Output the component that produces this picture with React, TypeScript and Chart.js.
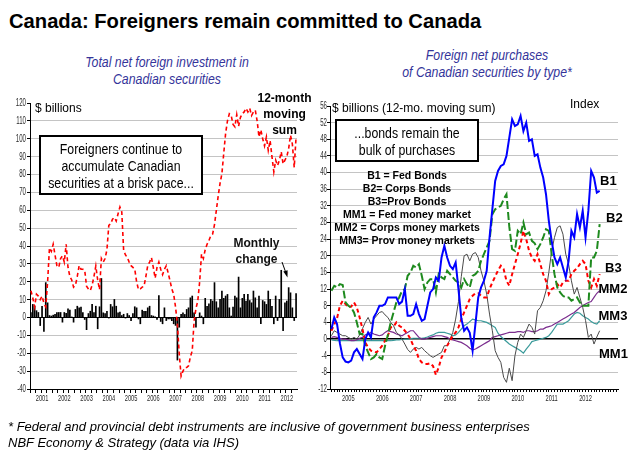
import React, { useEffect, useRef } from "react";
import { Chart, registerables } from "chart.js";

Chart.register(...registerables);

// ---------- Left panel data (monthly, Jan 2001 - Dec 2012) ----------
const leftYears = ["2001", "2002", "2003", "2004", "2005", "2006", "2007", "2008", "2009", "2010", "2011", "2012"];

const monthlyChange = [
  3, 7.5, 6.5, 4, 3, -4.7, 6.5, -8, 19.7, 8.4,
  1.3, 1, 1.5, 2, 3, 3, 3, -2.8, 3, 2.5,
  5, 4.3, 0.5, -2.8, 4.7, 6.5, 5.6, 6, 3, -1.3,
  -7, 2.4, 3.7, 7.5, 3, 6.5, -6.5, 6.2, 22, 2.8,
  2.4, 3.7, -0.5, 7.5, 6.2, 10.3, 6.5, 2.8, 3.2, 1.3,
  2, -0.5, 2.4, 1.3, -1.9, 2.4, 6.2, 5.6, -1, -3.7,
  4.3, 3.7, 3.7, 5.6, 6.5, 1.3, 1, 0.5, -1.3, 12.5,
  -2.4,
  -3.7, 5.6, -1.9, -1, -1, -2, -3.7, -4.6, -24, -5.6,
  1.9, 2.8, 1.9, 4.7, 5.6, 11.2, 12.2, 2.8, -5.6, 0,
  2.8, 1, -3.7, 10.9, 6.5, 7.9, 10.3, 9.4, 19.7, 9,
  5.6, 10.3, 15, 10.9, 12.2, 13.1, 5.6, 1, 6, 12.2,
  11.2, 22.8, 5.6, 10.9, 13.1, 9.4, 13.1, 9.7, 8.4, 15,
  11.2, 5.6, 12.2, -3.7, 9.7, 9, 7.5, 15, 10.3, 6.5,
  -3.7, 12.2, -1.9, 10.3, 26.6, -7.5, 8.4, 9.4, 16.9, 14,
  5.6, -1.9, 13.5,
];

const movingSum = [
  15, 11, 6, 13, 12, 10, 12, 8, 6, 20, 39, 37,
  41, 35, 29, 28, 33, 34.5, 31, 41, 28, 23, 21, 17,
  18, 23, 29, 27, 27, 26.5, 17.5, 16, 15, 18, 23, 28.8,
  21, 15.6, 33, 31, 33, 38, 51.5, 52.4, 55, 56, 54, 58,
  61.8, 59, 37.6, 35, 33.5, 31, 29, 28, 27, 20, 15.6, 16,
  17, 17.5, 23, 29, 31, 33.5, 28, 22, 28, 31, 27, 24,
  27, 29, 25, 20.6, 16, 13, 5.8, -3.8, -20.6, -32.8, -30, -28,
  -28, -27, -22, -18.6, -2, 5, 9.3, 20, 35.5, 33, 38, 41,
  43, 45.8, 46.7, 52, 60, 68, 75, 80.5, 92, 103, 110, 114,
  113, 108, 106.7, 113.5, 107, 112, 114, 115, 117, 115, 117, 113,
  115, 116, 110, 101, 105, 100, 96, 101, 93.5, 99, 90, 81.5,
  88, 85, 88, 92.7, 86, 88, 90, 94.5, 102, 97, 84, 101,
];

// ---------- Right panel data (12-mo moving sums, Jan 2005 - Dec 2012) ----------
const rightYears = ["2005", "2006", "2007", "2008", "2009", "2010", "2011", "2012", "2013"];

const fedBonds = [
  2.4, 5.2, 3.6, -1, -4.4, -5.4, -5.6, -5.2, -3.2, -2.4, -3.6, -4.8,
  0, 1.6, 0.4, 5.2, 6.4, 8, 8, 8.4, 10, 10, 10, 10,
  8.4, 9, 12, 5.6, 5.6, 6, 8.4, 6, 4.4, 4.8, 8, 11.2,
  12, 14.8, 14, 19.6, 22.4, 19.6, 17.6, 16.8, 18.4, 12, 5, 2,
  2.8, 1.5, -2.8, 3.6, 10, 12.4, 14, 16.4, 24.4, 31.2, 38, 40.4,
  41.6, 42, 44, 48.4, 52.8, 51.2, 51.6, 53.6, 50, 52, 47.6, 48,
  44, 44.4, 41.2, 38.8, 34.8, 28.4, 23.6, 19.6, 18, 19.6, 17.2, 14.8,
  18.8, 26, 24.4, 30, 26.8, 30.8, 24.4, 30.8, 40.4, 38.8, 35.2, 35.6,
];

const corpBonds = [
  11.6, 12.8, 12.4, 13.2, 13, 8.8, 8, 7.6, 6.4, 4, 1.2, 1.2,
  -1.6, -3.2, -4.8, -4.4, -3.6, -4.4, -4.8, -1.6, 1, 4, 6.4, 8.8,
  10, 11.6, 12, 15.2, 16, 17.6, 17.2, 18, 15.2, 12, 13.6, 14.4,
  14.4, 11.2, 15.6, 14.8, 14.4, 16.4, 15.6, 14.8, 14, 13.6, 12.4, 14.4,
  13.2, 12.4, 15.2, 15.6, 16.4, 18.8, 20.4, 22, 23.6, 30, 31.2, 31.6,
  32, 33.6, 34.8, 27, 21.6, 21.2, 26, 25.2, 28, 25.2, 25.6, 23.6,
  23, 21.6, 22.8, 24.4, 26.4, 26, 20.4, 15.6, 12.4, 11.2, 10.4, 10,
  10, 9.2, 9.6, 10, 8.8, 8, 8, 8, 19.6, 19.6, 21.2, 27.6,
];

const provBonds = [
  2, 3.5, 5, 8, 9.2, 8.4, 7.6, 7.8, 8.8, 7.6, 5.2, 2.4,
  -0.8, -2, -2.8, -3, -3.2, -2.4, -1.6, -0.4, 0.8, 2.8, 3, 4,
  3.2, 2.8, 2, 1.2, 0, -1.6, -2.8, -4.8, -5.6, -6, -6, -5.8,
  -6.5, -8.6, -6.8, -4.4, -3.2, -1.6, -0.4, 0.8, 1.6, 2.8, 4.8, 6.4,
  8, 9.6, 10.4, 11, 11, 10.4, 10, 10, 12, 13.6, 15, 16.5,
  17.6, 16.8, 14, 12.8, 15.6, 18, 20.4, 23, 26, 24, 21.2, 19.6,
  18.8, 20.4, 18, 15.6, 14, 10.8, 12, 12.4, 13.2, 12.4, 13.6, 14,
  14, 15.6, 16.4, 17, 18, 18.8, 18, 14, 12.4, 14.4, 12.8, 15.6,
];

const fedMoneyMkt = [
  0.8, 2, 1.6, 1.2, 0.8, 0.8, 0.4, 0, 0.4, 0, 1, 2.5,
  4, 5.2, 3.6, 4.8, 5.6, 6.4, 6.6, 5.8, 5.2, 4, 3.2, 1.6,
  1, 0, -1.2, -2.5, -3.2, -2.4, -2, -2.4, -2, -2.8, -3.4, -4,
  -4.4, -4, -3.6, -3.2, -1.6, -1.6, 0, 1.6, 4.8, 9, 15, 20,
  20.4, 18.8, 20.4, 20.8, 19.6, 16.4, 14, 10.8, 6, 2, -2.8, -4.4,
  -5.6, -9.2, -10.4, -7, -10, -4, -0.8, 1.2, 0.4, 2, 3.6, 2.8,
  1.2, 6.8, 7.6, 9.2, 11.6, 16, 21.2, 24.4, 26.8, 27.2, 25.2, 20.4,
  18, 14, 10.8, 12.4, 10, 7.6, 4.5, 0.4, 1.2, -1.2, 0.5, 2,
];

const corpMoneyMkt = [
  0.4, 0.6, 0.4, 0.2, 0, 0, -0.2, -0.4, -0.4, -0.2, 0.2, 0.4,
  1, 1.2, 1.6, 1.2, 1, 0.8, 1, 1.6, 2, 1.8, 1.6, 1.2,
  1, 0.8, 1.2, 1.6, 2, 2, 1.2, 0.4, 0, 0, 0.2, 0.4,
  0.6, 0.8, 0.8, 0.8, 0.6, 0.4, 0, -0.2, -0.4, -0.6, -0.8, -1.2,
  -1.6, -2.2, -2.6, -2.4, -2, -1.6, -1.2, -0.8, -0.4, 0.4, 0.6, 0.8,
  1, 1.2, 1.4, 1.6, 1.6, 1.6, 1.8, 1.8, 1.6, 2, 2, 1.8,
  1.8, 2, 2.4, 2.4, 2.8, 3, 3.2, 3.6, 4, 4.4, 4.8, 5.2,
  5.6, 6, 6.4, 7, 7.6, 8, 8.4, 8.8, 9, 10, 11, 11.6,
];

const provMoneyMkt = [
  -0.2, -0.3, -0.4, -0.4, -0.4, -0.4, -0.4, -0.4, -0.4, -0.4, -0.4, -0.4,
  -0.4, -0.4, -0.4, -0.4, -0.4, -0.4, -0.4, -0.4, -0.4, -0.4, -0.3, -0.2,
  -0.2, -0.1, 0, 0, 0.1, 0.2, 0.2, 0.2, 0.2, 0.3, 0.5, 0.8,
  1, 1.4, 1.6, 1.6, 1.6, 1.4, 1.2, 0.8, 1, 1.6, 2.4, 3.2,
  3.6, 4.2, 4.8, 4.6, 4.4, 4.4, 4.2, 4, 3.6, 3.2, 2.8, 1.4,
  0.6, 0, -0.6, -1.2, -1.6, -2, -2.4, -2.8, -3.4, -2.4, -1.6, -0.6,
  -0.4, -0.2, 0, 0.2, 0.4, 0.8, 1.6, 2.6, 3.6, 3.6, 3.6, 4,
  4.4, 5.2, 6, 6.4, 6.2, 5.6, 5.2, 4.8, 4.2, 3.8, 3.6, 4.4,
];

const legendLines = [
  "B1 = Fed Bonds",
  "B2= Corps Bonds",
  "B3=Prov Bonds",
  "MM1 = Fed money market",
  "MM2 = Corps money markets",
  "MM3= Prov money markets",
];

const SANS = "'Liberation Sans', Arial, Helvetica, sans-serif";

function monthLabels(years: string[], count: number): string[] {
  const out: string[] = [];
  for (let i = 0; i < count; i++) {
    const y = years[Math.floor(i / 12)];
    out.push(y + "-" + String((i % 12) + 1).padStart(2, "0"));
  }
  return out;
}

const TRANSPARENT = "rgba(0,0,0,0)";

// Draws condensed tick labels (like Arial Narrow) using the chart's own scales.
function makeTickPlugin(years: string[], yearCount: number, yGap: number) {
  return {
    id: "condensedTicks",
    afterDraw(chart: any) {
      const ctx = chart.ctx as CanvasRenderingContext2D;
      const xs = chart.scales.x;
      const ys = chart.scales.y;
      const area = chart.chartArea;
      ctx.save();
      ctx.fillStyle = "#2a2a2a";
      ctx.font = `10.5px ${SANS}`;
      ctx.textAlign = "right";
      ctx.textBaseline = "middle";
      ys.ticks.forEach((t: any) => {
        const py = ys.getPixelForValue(t.value);
        ctx.save();
        ctx.translate(area.left - yGap, py);
        ctx.scale(0.58, 1);
        ctx.fillText(String(t.value), 0, 0);
        ctx.restore();
      });
      ctx.font = `9.5px ${SANS}`;
      ctx.textAlign = "center";
      ctx.textBaseline = "middle";
      xs.ticks.forEach((_t: any, i: number) => {
        if (i % 12 !== 6) return;
        const k = Math.floor(i / 12);
        if (k >= yearCount) return;
        const px = xs.getPixelForTick(i);
        ctx.save();
        ctx.translate(px, area.bottom + 9.5);
        ctx.scale(0.6, 1);
        ctx.fillText(years[k], 0, 0);
        ctx.restore();
      });
      ctx.restore();
    },
  };
}

export default function App() {
  const leftRef = useRef<HTMLCanvasElement>(null);
  const rightRef = useRef<HTMLCanvasElement>(null);

  useEffect(() => {
    const leftLabels = monthLabels(leftYears, leftYears.length * 12);
    const left = new Chart(leftRef.current as HTMLCanvasElement, {
      type: "bar",
      data: {
        labels: leftLabels,
        datasets: [
          {
            type: "line",
            label: "12-month moving sum",
            data: movingSum,
            borderColor: "#FF0000",
            borderWidth: 1.6,
            borderDash: [4, 3],
            pointRadius: 0,
            fill: false,
            tension: 0,
            order: 0,
          } as any,
          {
            type: "bar",
            label: "Monthly change",
            data: monthlyChange,
            backgroundColor: "#000000",
            borderWidth: 0,
            barPercentage: 1,
            categoryPercentage: 0.9,
            order: 1,
          } as any,
        ],
      },
      plugins: [makeTickPlugin(leftYears, 12, 4)],
      options: {
        responsive: false,
        animation: false,
        layout: { padding: { left: 0, top: 8, right: 8, bottom: 0 } },
        plugins: { legend: { display: false }, tooltip: { enabled: false } },
        scales: {
          x: {
            type: "category",
            offset: true,
            grid: {
              offset: true,
              drawOnChartArea: false,
              drawTicks: true,
              tickLength: 4,
              color: (c: any) => (c.index % 3 === 0 ? "#000" : TRANSPARENT),
              tickColor: (c: any) => (c.index % 3 === 0 ? "#000" : TRANSPARENT),
            },
            border: { color: "#000", width: 1 },
            ticks: { display: false, autoSkip: false, maxRotation: 0, minRotation: 0 },
            afterFit: (s: any) => {
              s.height = 21;
            },
          },
          y: {
            min: -40,
            max: 120,
            grid: {
              color: (c: any) =>
                c.tick && c.tick.value === 0 ? "#000" : c.tick && c.tick.value === 120 ? TRANSPARENT : "#C4C4C4",
              tickColor: "#000",
              tickLength: 3,
              lineWidth: 1,
            },
            border: { color: "#000", width: 1 },
            ticks: { display: false, stepSize: 10 },
            afterFit: (s: any) => {
              s.width = 30;
            },
          },
        },
      },
    });

    const rightLabels = monthLabels(rightYears, 102);
    const lineDs = (label: string, data: number[], color: string, width: number, dash: number[]) => ({
      label,
      data,
      borderColor: color,
      borderWidth: width,
      borderDash: dash,
      pointRadius: 0,
      fill: false,
      tension: 0,
    });
    const right = new Chart(rightRef.current as HTMLCanvasElement, {
      type: "line",
      data: {
        labels: rightLabels,
        datasets: [
          lineDs("B1", fedBonds, "#0000FF", 2, []),
          lineDs("B2", corpBonds, "#1E8A1E", 2, [8, 3]),
          lineDs("B3", provBonds, "#FF0000", 2, [4, 3]),
          lineDs("MM1", fedMoneyMkt, "#4A4A4A", 1, []),
          lineDs("MM2", corpMoneyMkt, "#7B2D8E", 1.2, []),
          lineDs("MM3", provMoneyMkt, "#3A9A9A", 1.2, []),
        ] as any,
      },
      plugins: [makeTickPlugin(rightYears, 8, 3)],
      options: {
        responsive: false,
        animation: false,
        layout: { padding: { left: 0, top: 11, right: 23, bottom: 0 } },
        plugins: { legend: { display: false }, tooltip: { enabled: false } },
        scales: {
          x: {
            type: "category",
            offset: true,
            grid: {
              drawOnChartArea: false,
              drawTicks: true,
              tickLength: 3,
              color: "#000",
              tickColor: "#000",
            },
            border: { color: "#000", width: 1 },
            ticks: { display: false, autoSkip: false, maxRotation: 0, minRotation: 0 },
            afterFit: (s: any) => {
              s.height = 21;
            },
          },
          y: {
            min: -12,
            max: 56,
            grid: {
              color: (c: any) =>
                c.tick && c.tick.value === 0 ? "#000" : c.tick && c.tick.value === 56 ? TRANSPARENT : "#C4C4C4",
              lineWidth: (c: any) => (c.tick && c.tick.value === 0 ? 1.5 : 1),
              tickColor: "#000",
              tickLength: 3,
            },
            border: { color: "#000", width: 1 },
            ticks: { display: false, stepSize: 4 },
            afterFit: (s: any) => {
              s.width = 20;
            },
          },
        },
      },
    });

    return () => {
      left.destroy();
      right.destroy();
    };
  }, []);

  const abs = (extra: React.CSSProperties): React.CSSProperties => ({
    position: "absolute",
    whiteSpace: "nowrap",
    margin: 0,
    ...extra,
  });

  // Centered block of condensed (narrow) text lines
  const narrowBlock = (lines: string[], cx: number, top: number, extra: React.CSSProperties) => (
    <div
      style={abs({
        left: cx - 150,
        top,
        width: 300,
        textAlign: "center",
        fontSize: 15,
        lineHeight: "17px",
        transform: "scaleX(0.82)",
        transformOrigin: "50% 50%",
        ...extra,
      })}
    >
      {lines.map((l) => (
        <div key={l}>{l}</div>
      ))}
    </div>
  );

  const seriesLabel = (text: string, x: number, top: number) => (
    <div style={abs({ left: x, top, fontWeight: "bold", fontSize: 13, lineHeight: "13px", color: "#000" })}>
      {text}
    </div>
  );

  return (
    <div
      style={{
        position: "absolute",
        left: 0,
        top: 0,
        width: 641,
        height: 459,
        background: "#fff",
        overflow: "hidden",
        fontFamily: SANS,
      }}
    >
      <canvas
        ref={leftRef}
        width={305}
        height={315}
        style={{ position: "absolute", left: 0, top: 95, width: 305, height: 315 }}
      />
      <canvas
        ref={rightRef}
        width={331}
        height={315}
        style={{ position: "absolute", left: 310, top: 95, width: 331, height: 315 }}
      />

      {/* Title */}
      <div style={abs({ left: 9, top: 9, fontSize: 20.2, lineHeight: "24px", fontWeight: "bold", color: "#000" })}>
        Canada: Foreigners remain committed to Canada
      </div>

      {/* Subtitles */}
      {narrowBlock(["Total net foreign investment in", "Canadian securities"], 166.5, 52.5, {
        fontStyle: "italic",
        color: "#34349A",
      })}
      {narrowBlock(["Foreign net purchases", "of Canadian securities by type*"], 486.5, 46, {
        fontStyle: "italic",
        color: "#34349A",
      })}

      {/* Left annotations */}
      <div style={abs({ left: 35, top: 101, fontSize: 12, lineHeight: "14px", color: "#000" })}>$ billions</div>
      <div
        style={{
          position: "absolute",
          left: 39,
          top: 135,
          width: 164,
          height: 60,
          boxSizing: "border-box",
          border: "2px solid #000",
          background: "#fff",
        }}
      />
      {narrowBlock(["Foreigners continue to", "accumulate Canadian", "securities at a brisk pace..."], 121, 140.3, {
        color: "#000",
      })}
      <div
        style={abs({
          left: 234.5,
          top: 89.5,
          width: 100,
          textAlign: "center",
          fontWeight: "bold",
          fontSize: 12,
          lineHeight: "16px",
          color: "#000",
        })}
      >
        12-month
        <br />
        moving
        <br />
        sum
      </div>
      <div
        style={abs({
          left: 206.5,
          top: 234.8,
          width: 100,
          textAlign: "center",
          fontWeight: "bold",
          fontSize: 12,
          lineHeight: "16px",
          color: "#111",
        })}
      >
        Monthly
        <br />
        change
      </div>
      <svg
        width={641}
        height={459}
        style={{ position: "absolute", left: 0, top: 0, pointerEvents: "none" }}
      >
        <line x1={282} y1={262} x2={285.6} y2={272} stroke="#000" strokeWidth={1} />
        <polygon points="287.5,277.5 283.3,271.5 287.6,270.2" fill="#000" />
      </svg>

      {/* Right annotations */}
      <div style={abs({ left: 332, top: 101.3, fontSize: 12, lineHeight: "14px", color: "#000" })}>
        $ billions (12-mo. moving sum)
      </div>
      <div style={abs({ left: 570, top: 97, fontSize: 12, lineHeight: "14px", color: "#000" })}>Index</div>
      <div
        style={{
          position: "absolute",
          left: 335,
          top: 119,
          width: 144,
          height: 43,
          boxSizing: "border-box",
          border: "2px solid #000",
          background: "#fff",
        }}
      />
      {narrowBlock(["...bonds remain the", "bulk of purchases"], 407, 123.6, { color: "#000" })}
      <div
        style={abs({
          left: 307,
          top: 169,
          width: 200,
          textAlign: "center",
          fontWeight: "bold",
          fontSize: 10.5,
          lineHeight: "13px",
          color: "#000",
        })}
      >
        {legendLines.map((l) => (
          <div key={l}>{l}</div>
        ))}
      </div>
      {seriesLabel("B1", 600, 173.6)}
      {seriesLabel("B2", 606, 210.6)}
      {seriesLabel("B3", 605, 260.6)}
      {seriesLabel("MM2", 598.5, 281.6)}
      {seriesLabel("MM3", 598.5, 308.6)}
      {seriesLabel("MM1", 599, 346.6)}

      {/* Footer */}
      <div
        style={abs({
          left: 8,
          top: 418.5,
          fontStyle: "italic",
          fontSize: 13,
          lineHeight: "16px",
          color: "#000",
        })}
      >
        * Federal and provincial debt instruments are inclusive of government business enterprises
        <br />
        NBF Economy &amp; Strategy (data via IHS)
      </div>
    </div>
  );
}
